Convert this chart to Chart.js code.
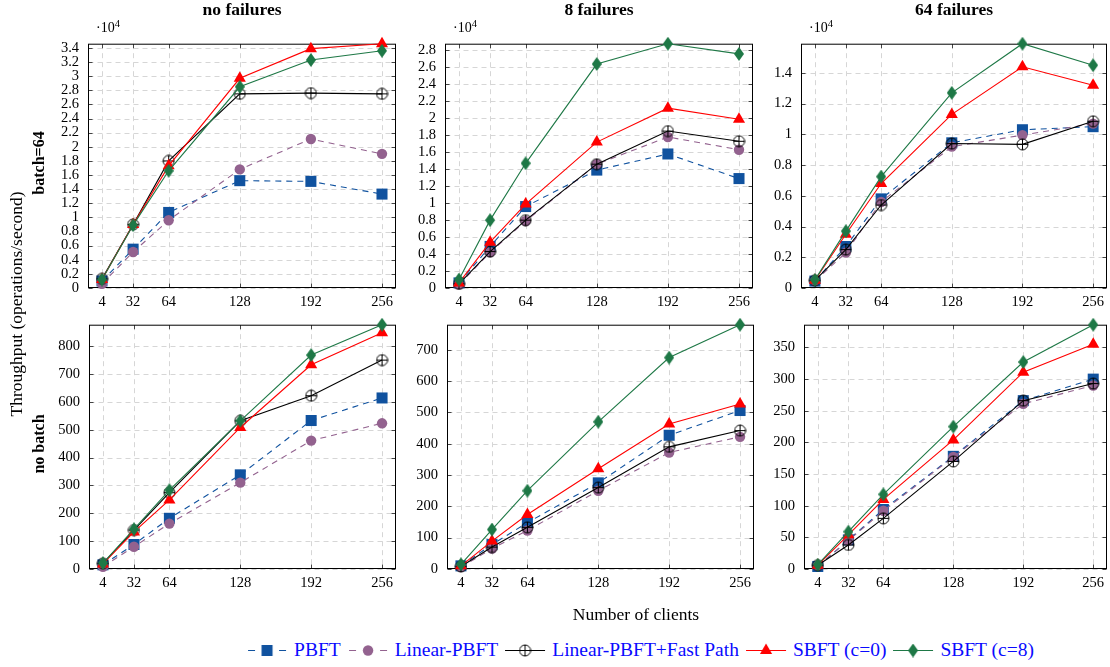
<!DOCTYPE html>
<html lang="en">
<head>
<meta charset="UTF-8">
<title>Throughput vs number of clients</title>
<script src="https://cdn.jsdelivr.net/npm/chart.js@4"></script>
<style>
    body { margin: 0; background: #fff; font-family: "Liberation Serif", "DejaVu Serif", serif; }
    #fig { position: relative; width: 1110px; height: 667px; overflow: hidden; }
    #fig > canvas { position: absolute; }
    .txt { position: absolute; white-space: nowrap; color: #000; line-height: 1; }
    .title { font-weight: bold; font-size: 17.5px; transform: translateX(-50%); }
    .rot { transform: translate(-50%, -50%) rotate(-90deg); }
    .exp { font-size: 14px; }
    .exp sup { font-size: 10.5px; vertical-align: 5px; }
    #legend { position: absolute; left: 644px; top: 640px; transform: translateX(-50%);
              display: flex; align-items: center; white-space: nowrap; }
    #legend canvas { display: block; margin-right: 7px; }
    #legend span { font-size: 19.5px; color: #0a0aff; line-height: 1; margin-right: 7px; }
</style>
</head>
<body>
<div id="fig"><div id="legend"></div></div>
<script>
    const clients = [4, 32, 64, 128, 192, 256];
    const seriesNames = ['PBFT', 'Linear-PBFT', 'Linear-PBFT+Fast Path', 'SBFT (c=0)', 'SBFT (c=8)'];

    // rows follow seriesNames order, operations/second
    const batch64NoFailures = [
        [1000, 5500, 10700, 15200, 15100, 13300],
        [600, 5100, 9600, 16800, 21100, 19000],
        [1300, 9000, 18000, 27500, 27600, 27500],
        [1200, 9000, 17300, 29700, 33900, 34600],
        [1200, 8900, 16600, 28500, 32300, 33600]
    ];
    const batch64Fail8 = [
        [600, 4900, 9600, 13900, 15800, 12900],
        [400, 4200, 7900, 14600, 17800, 16300],
        [500, 4300, 8000, 14600, 18500, 17300],
        [600, 5400, 9900, 17200, 21200, 19900],
        [1000, 8000, 14700, 26400, 28800, 27600]
    ];
    const batch64Fail64 = [
        [450, 2700, 5800, 9450, 10300, 10500],
        [450, 2300, 5600, 9200, 9950, 10700],
        [500, 2500, 5400, 9400, 9350, 10850],
        [500, 3500, 6800, 11300, 14400, 13200],
        [530, 3700, 7250, 12700, 15900, 14500]
    ];
    const noBatchNoFailures = [
        [15, 88, 182, 338, 533, 614],
        [8, 80, 163, 310, 461, 523],
        [20, 140, 274, 532, 622, 750],
        [18, 133, 248, 508, 733, 848],
        [21, 143, 283, 532, 768, 877]
    ];
    const noBatchFail8 = [
        [10, 78, 148, 275, 427, 506],
        [6, 65, 123, 250, 372, 422],
        [8, 70, 133, 260, 390, 442],
        [10, 89, 174, 320, 463, 527],
        [15, 126, 250, 470, 675, 780]
    ];
    const noBatchFail64 = [
        [4, 46, 94, 178, 266, 300],
        [5, 45, 92, 177, 261, 290],
        [6, 38, 80, 170, 266, 293],
        [6, 54, 110, 204, 311, 355],
        [7, 59, 118, 225, 327, 386]
    ];
    const colTitles = ['no failures', '8 failures', '64 failures'];
    const rowTitles = ['batch=64', 'no batch'];

    const BLUE = '#10529f', PURPLE = '#93628f', GREEN = '#1e7846', RED = '#ff0000';

    function markCanvas(w, h, draw) {
        const c = document.createElement('canvas');
        c.width = w; c.height = h;
        draw(c.getContext('2d'));
        return c;
    }
    const oplus = markCanvas(13, 13, g => {
        g.strokeStyle = '#000'; g.lineWidth = 1;
        g.beginPath(); g.arc(6.5, 6.5, 5.5, 0, Math.PI * 2); g.stroke();
        g.beginPath(); g.moveTo(1, 6.5); g.lineTo(12, 6.5); g.moveTo(6.5, 1); g.lineTo(6.5, 12); g.stroke();
    });
    const diamond = markCanvas(10, 14, g => {
        g.fillStyle = GREEN;
        g.beginPath(); g.moveTo(5, 0); g.lineTo(10, 7); g.lineTo(5, 14); g.lineTo(0, 7); g.closePath(); g.fill();
    });

    const styles = [
        { color: BLUE, dash: [6, 5], point: 'rect', radius: 7.8 },
        { color: PURPLE, dash: [6, 5], point: 'circle', radius: 5.2 },
        { color: '#000', dash: [], point: oplus, radius: 6 },
        { color: RED, dash: [], point: 'triangle', radius: 7 },
        { color: GREEN, dash: [], point: diamond, radius: 7 }
    ];

    // draws dashed grid, inward ticks and the box around the plot area
    const framePlugin = {
        id: 'frame',
        beforeDatasetsDraw(chart) {
            const { ctx, chartArea: a, scales: { x, y } } = chart;
            const L = a.left + 0.5, R = a.right - 0.5, T = a.top + 0.5, B = a.bottom - 0.5;
            const xs = x.ticks.map(t => Math.round(x.getPixelForValue(t.value)) + 0.5);
            const ys = y.ticks.map(t => Math.round(y.getPixelForValue(t.value)) + 0.5);
            ctx.save();
            ctx.lineWidth = 1;
            ctx.strokeStyle = '#d6d6d6';
            ctx.setLineDash([5, 4]);
            ctx.beginPath();
            xs.forEach(px => { ctx.moveTo(px, T); ctx.lineTo(px, B); });
            ys.forEach(py => { ctx.moveTo(L, py); ctx.lineTo(R, py); });
            ctx.stroke();
            ctx.setLineDash([]);
            ctx.strokeStyle = '#444';
            ctx.beginPath();
            xs.forEach(px => { ctx.moveTo(px, B); ctx.lineTo(px, B - 4); ctx.moveTo(px, T); ctx.lineTo(px, T + 4); });
            ys.forEach(py => { ctx.moveTo(L, py); ctx.lineTo(L + 4, py); ctx.moveTo(R, py); ctx.lineTo(R - 4, py); });
            ctx.stroke();
            ctx.strokeStyle = '#000';
            ctx.strokeRect(L, T, R - L, B - T);
            ctx.restore();
        }
    };

    const AX_W = 50, AX_H = 30, PAD_T = 12, PAD_R = 8;
    const fig = document.getElementById('fig');

    function addText(html, cls, left, top) {
        const d = document.createElement('div');
        d.className = 'txt ' + cls;
        d.innerHTML = html;
        d.style.left = left + 'px';
        d.style.top = top + 'px';
        fig.appendChild(d);
        return d;
    }

    function makePanel(rows, box, step, exp) {
        const [L, T, R, B] = box;
        const cv = document.createElement('canvas');
        const w = R - L + AX_W + PAD_R, h = B - T + PAD_T + AX_H;
        cv.width = w; cv.height = h;
        cv.style.left = (L - AX_W) + 'px';
        cv.style.top = (T - PAD_T) + 'px';
        fig.appendChild(cv);

        const yMax = Math.max(...rows.flat());
        const span = clients[clients.length - 1] - clients[0];
        const yTicks = [];
        for (let v = 0; v <= yMax + 1e-9; v += step) yTicks.push(v);
        const font = { family: "'Liberation Serif', serif", size: 14.5 };

        new Chart(cv, {
            type: 'line',
            data: {
                datasets: rows.map((vals, i) => ({
                    label: seriesNames[i],
                    data: clients.map((c, j) => ({ x: c, y: vals[j] })),
                    borderColor: styles[i].color,
                    backgroundColor: styles[i].color,
                    borderWidth: 1.1,
                    borderDash: styles[i].dash,
                    pointStyle: styles[i].point,
                    pointRadius: styles[i].radius,
                    pointBorderWidth: 0,
                    pointBackgroundColor: styles[i].color,
                    pointBorderColor: styles[i].color,
                    tension: 0,
                    fill: false,
                    clip: false,
                    order: 5 - i
                }))
            },
            options: {
                responsive: false,
                animation: false,
                devicePixelRatio: 1,
                layout: { padding: { left: 0, top: PAD_T, right: PAD_R, bottom: 0 }, autoPadding: false },
                plugins: { legend: { display: false }, tooltip: { enabled: false } },
                scales: {
                    x: {
                        type: 'linear',
                        min: clients[0] - span * 0.05,
                        max: clients[clients.length - 1] + span * 0.05,
                        grid: { display: false, drawTicks: false },
                        border: { display: false },
                        afterBuildTicks: s => { s.ticks = clients.map(v => ({ value: v })); },
                        afterFit: s => { s.height = AX_H; },
                        ticks: { font, color: '#000', padding: 5, maxRotation: 0, autoSkip: false, callback: v => String(v) }
                    },
                    y: {
                        type: 'linear',
                        min: 0,
                        max: yMax,
                        grid: { display: false, drawTicks: false },
                        border: { display: false },
                        afterBuildTicks: s => { s.ticks = yTicks.map(v => ({ value: v })); },
                        afterFit: s => { s.width = AX_W; },
                        ticks: {
                            font, color: '#000', padding: 9, autoSkip: false,
                            callback: v => exp ? String(+(v / 1e4).toFixed(1)) : String(v)
                        }
                    }
                }
            },
            plugins: [framePlugin]
        });

        if (exp) addText('&middot;10<sup>4</sup>', 'exp', L + 8, 19);
    }

    const boxes = [
        [88, 38, 396, 288], [445, 38, 753, 288], [801, 38, 1107, 288],
        [89, 319, 396, 569], [447, 319, 754, 569], [804, 319, 1107, 569]
    ];
    makePanel(batch64NoFailures, boxes[0], 2000, true);
    makePanel(batch64Fail8, boxes[1], 2000, true);
    makePanel(batch64Fail64, boxes[2], 2000, true);
    makePanel(noBatchNoFailures, boxes[3], 100, false);
    makePanel(noBatchFail8, boxes[4], 100, false);
    makePanel(noBatchFail64, boxes[5], 50, false);

    colTitles.forEach((t, i) => addText(t, 'title', (boxes[i][0] + boxes[i][2]) / 2, 1));
    rowTitles.forEach((t, i) => {
        const b = boxes[i * 3];
        const d = addText(t, 'rot', 39, (b[1] + b[3]) / 2);
        d.style.fontWeight = 'bold'; d.style.fontSize = '16px';
    });
    const yl = addText('Throughput (operations/second)', 'rot', 17, 304);
    yl.style.fontSize = '17.5px';
    const xl = addText('Number of clients', '', 636, 606);
    xl.style.fontSize = '17.5px'; xl.style.transform = 'translateX(-50%)';

    // legend: a short line sample with the marker, then the series name
    const legend = document.getElementById('legend');
    seriesNames.forEach((name, i) => {
        const st = styles[i];
        const c = document.createElement('canvas');
        c.width = 40; c.height = 20;
        const g = c.getContext('2d');
        const ly = 10.5, mid = 20;
        g.strokeStyle = st.color; g.fillStyle = st.color; g.lineWidth = 1.1;
        g.beginPath();
        if (st.dash.length) {
            g.moveTo(1, ly); g.lineTo(8, ly);
            g.moveTo(32, ly); g.lineTo(39, ly);
        } else {
            g.moveTo(0, ly); g.lineTo(40, ly);
        }
        g.stroke();
        if (i === 0) g.fillRect(mid - 5.5, ly - 5.5, 11, 11);
        if (i === 1) { g.beginPath(); g.arc(mid, ly, 5.2, 0, Math.PI * 2); g.fill(); }
        if (i === 2) g.drawImage(oplus, mid - 6.5, ly - 6.5);
        if (i === 3) {
            g.beginPath(); g.moveTo(mid, ly - 7); g.lineTo(mid + 6.1, ly + 3.5); g.lineTo(mid - 6.1, ly + 3.5); g.closePath(); g.fill();
        }
        if (i === 4) g.drawImage(diamond, mid - 5, ly - 7);
        const s = document.createElement('span');
        s.textContent = name;
        legend.appendChild(c);
        legend.appendChild(s);
    });
</script>
</body>
</html>
